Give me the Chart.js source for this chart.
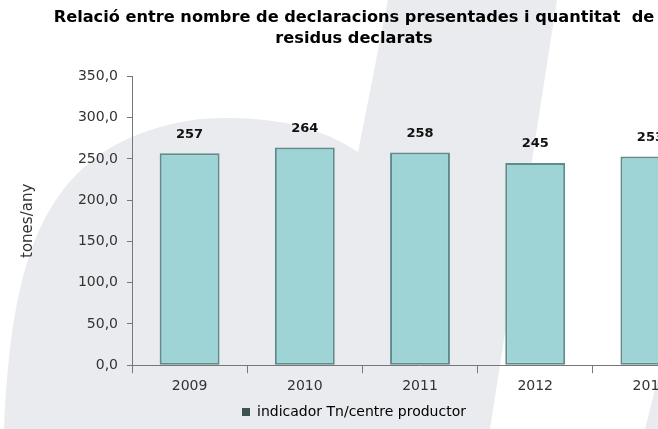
<!DOCTYPE html>
<html>
<head>
<meta charset="utf-8">
<script src="https://cdn.jsdelivr.net/npm/chart.js@4.4.1/dist/chart.umd.min.js"></script>
<style>
  body { margin: 0; overflow: hidden; background: #fff; }
  #wrap { position: relative; width: 708px; height: 429px; }
</style>
</head>
<body>
<div id="wrap"><canvas id="myChart"></canvas></div>
<script>
var years = ['2009', '2010', '2011', '2012', '2013'];
var tonesPerCentre = [257, 264, 258, 245, 253];
var yTickLabels = ['0,0', '50,0', '100,0', '150,0', '200,0', '250,0', '300,0', '350,0'];
var seriesName = 'indicador Tn/centre productor';
var titleLines = ['Relació entre nombre de declaracions presentades i quantitat  de', 'residus declarats'];
var yTitle = 'tones/any';

// light grey logo shape behind the chart
var watermark = {
    id: 'watermark',
    beforeDraw: function (chart) {
        var c = chart.ctx;
        c.save();
        c.fillStyle = '#e9ebee';
        c.beginPath();
        c.moveTo(4, 429);
        c.bezierCurveTo(12, 260, 40, 140, 200, 119);
        c.quadraticCurveTo(300, 112, 358, 152);
        c.lineTo(388, 0);
        c.lineTo(557, 0);
        c.lineTo(490, 429);
        c.closePath();
        c.fill();
        c.beginPath();
        c.moveTo(660, 370);
        c.lineTo(660, 429);
        c.lineTo(645, 429);
        c.closePath();
        c.fill();
        c.restore();
    }
};

// value labels over the bars
var barValues = {
    id: 'barValues',
    afterDatasetsDraw: function (chart) {
        var c = chart.ctx;
        var meta = chart.getDatasetMeta(0);
        c.save();
        c.font = 'bold 13px "DejaVu Sans"';
        c.fillStyle = '#111';
        c.textAlign = 'center';
        c.textBaseline = 'middle';
        meta.data.forEach(function (bar, i) {
            c.fillText(String(tonesPerCentre[i]), bar.x, bar.y - 19);
        });
        c.restore();
    }
};

var ctx = document.getElementById('myChart');

var myChart = new Chart(ctx, {
    type: 'bar',
    data: {
        labels: years,
        datasets: [{
            label: seriesName,
            data: tonesPerCentre,
            backgroundColor: '#9fd4d6',
            borderColor: '#5f8b8d',
            borderWidth: 2,
            borderSkipped: false,
            categoryPercentage: 1,
            barPercentage: 0.52
        }]
    },
    options: {
        responsive: true,
        maintainAspectRatio: false,
        animation: false,
        layout: { padding: { left: 0, right: 0, top: 0, bottom: 0 } },
        plugins: {
            title: {
                display: true,
                text: titleLines,
                color: '#000',
                font: { family: 'DejaVu Sans', size: 16.2, weight: 'bold', lineHeight: 1.25 },
                padding: { top: 8, bottom: 28 }
            },
            legend: {
                position: 'bottom',
                labels: {
                    color: '#333',
                    font: { family: 'DejaVu Sans', size: 14 },
                    boxWidth: 8,
                    boxHeight: 8,
                    padding: 5,
                    generateLabels: function () {
                        return [{ text: seriesName, fillStyle: '#3f5252', strokeStyle: '#3f5252', lineWidth: 0, hidden: false, datasetIndex: 0 }];
                    }
                }
            },
            tooltip: { enabled: false }
        },
        scales: {
            x: {
                grid: { display: true, drawOnChartArea: false, tickLength: 8, color: '#777', offset: true },
                border: { color: '#777', width: 1 },
                ticks: { color: '#333', font: { family: 'DejaVu Sans', size: 14 }, padding: 5 }
            },
            y: {
                min: 0,
                max: 350,
                afterFit: function (scale) { scale.width = 132; },
                grid: { display: true, drawOnChartArea: false, tickLength: 5, color: '#777' },
                border: { color: '#777', width: 1 },
                ticks: {
                    stepSize: 50,
                    color: '#333',
                    font: { family: 'DejaVu Sans', size: 14 },
                    padding: 9,
                    callback: function (v, i) { return yTickLabels[i]; }
                },
                title: {
                    display: true,
                    text: yTitle,
                    color: '#333',
                    font: { family: 'DejaVu Sans', size: 15 },
                    padding: { top: 19, bottom: 0 }
                }
            }
        }
    },
    plugins: [watermark, barValues]
});
</script>
</body>
</html>
